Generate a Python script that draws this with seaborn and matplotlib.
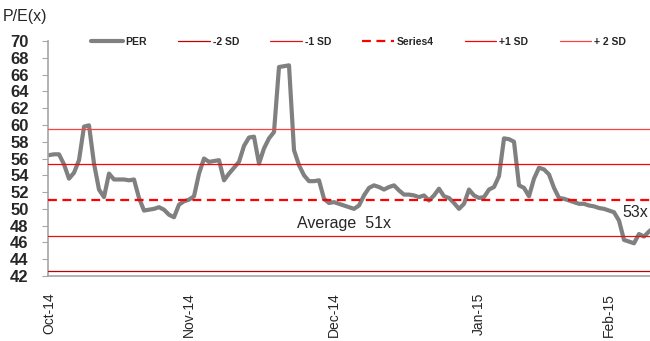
import matplotlib
matplotlib.use("Agg")
import matplotlib.pyplot as plt
import seaborn as sns
import pandas as pd
from matplotlib.lines import Line2D

# Daily P/E readings, Oct-14 to early Mar-15
per = [
    56.4, 56.5, 56.5, 55.3, 53.6, 54.3, 55.8, 59.8, 59.95, 55.4,
    52.3, 51.4, 54.2, 53.5, 53.5, 53.5, 53.4, 53.5, 51.3, 49.8,
    49.9, 50.0, 50.2, 49.9, 49.3, 49.0, 50.5, 50.9, 51.1, 51.5,
    54.2, 56.0, 55.6, 55.7, 55.8, 53.4, 54.2, 54.9, 55.6, 57.5,
    58.5, 58.6, 55.4, 57.2, 58.4, 59.15, 66.9, 67.0, 67.1, 57.0,
    55.2, 54.0, 53.3, 53.3, 53.4, 51.2, 50.7, 50.8, 50.6, 50.4,
    50.2, 50.0, 50.4, 51.6, 52.5, 52.8, 52.6, 52.3, 52.6, 52.8,
    52.2, 51.7, 51.7, 51.6, 51.4, 51.6, 51.0, 51.6, 52.4, 51.5,
    51.3, 50.7, 50.0, 50.6, 52.3, 51.6, 51.3, 51.4, 52.3, 52.6,
    53.9, 58.4, 58.3, 58.0, 52.8, 52.5, 51.5, 53.6, 54.9, 54.7,
    54.1, 52.5, 51.3, 51.2, 51.0, 50.8, 50.6, 50.6, 50.4, 50.3,
    50.1, 50.0, 49.8, 49.6, 48.6, 46.3, 46.1, 45.9, 47.0, 46.7,
    47.3, 47.8,
]

# Band levels
average = 51.1
minus_2sd = 42.55
minus_1sd = 46.75
plus_1sd = 55.3
plus_2sd = 59.55

# Month labels and the reading index where each month begins
month_labels = ["Oct-14", "Nov-14", "Dec-14", "Jan-15", "Feb-15"]
month_start_idx = [0, 28, 57, 86, 112]

y_ticks = list(range(42, 71, 2))

df = pd.DataFrame({"idx": range(len(per)), "PER": per})

sns.set_style("white")
plt.rcParams["font.family"] = ["Liberation Sans", "DejaVu Sans"]

fig = plt.figure(figsize=(6.5, 3.41), dpi=100)
ax = fig.add_axes([48 / 650, 1 - 276 / 341, 602 / 650, 235 / 341])

grey = "#808080"
sns.lineplot(data=df, x="idx", y="PER", ax=ax, color=grey, lw=3.0,
             zorder=2, legend=False)

band_styles = [
    ("-2 SD", minus_2sd, dict(color="#c00000", lw=0.9, ls="-")),
    ("-1 SD", minus_1sd, dict(color="#e3101a", lw=0.9, ls="-")),
    ("Series4", average, dict(color="#ff0000", lw=1.6, ls=(0, (4, 2.5)))),
    ("+1 SD", plus_1sd, dict(color="#ff0000", lw=0.9, ls="-")),
    ("+ 2 SD", plus_2sd, dict(color="#ff4040", lw=0.9, ls="-")),
]
for name, level, st in band_styles:
    ax.axhline(level, zorder=3, **st)

ax.set_xlim(-0.2, 120.2)
ax.set_ylim(42, 70)
ax.set_yticks(y_ticks)
ax.set_yticklabels([str(v) for v in y_ticks], fontsize=12, fontweight="bold")
ax.set_xticks(month_start_idx)
ax.set_xticklabels(month_labels, rotation=90, fontsize=10, va="top")
ax.tick_params(axis="y", direction="out", length=4, width=0.8,
               color="#a6a6a6", pad=10, left=True)
ax.tick_params(axis="x", length=0, pad=12)
ax.set_xlabel("")
ax.set_ylabel("")

for side in ("top", "right"):
    ax.spines[side].set_visible(False)
for side in ("left", "bottom"):
    ax.spines[side].set_color("#a6a6a6")
    ax.spines[side].set_linewidth(1.2)

ax.text(59, 48.3, "Average  51x", fontsize=11.5, ha="center", va="center")
ax.text(114.6, 49.6, "53x", fontsize=11.5, ha="left", va="center",
        clip_on=False)

fig.text(3 / 650, 1 - 17 / 341, "P/E(x)", fontsize=11.5, ha="left",
         va="center")

handles = [Line2D([0], [0], color=grey, lw=3.0)]
for name, level, st in band_styles:
    handles.append(Line2D([0], [0], **st))
labels = ["PER"] + [b[0] for b in band_styles]
ax.legend(handles, labels, loc="center", bbox_to_anchor=(0.516, 0.996),
          ncol=6, frameon=False, prop={"size": 7.5, "weight": "bold"},
          handlelength=3.0, handletextpad=0.3, columnspacing=3.0)

fig.savefig("out.png", dpi=100)
